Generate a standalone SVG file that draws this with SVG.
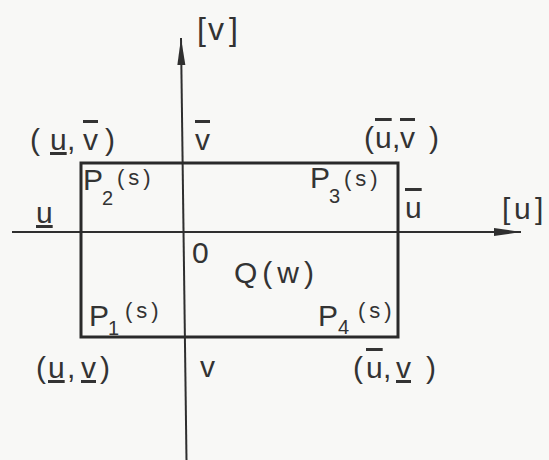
<svg xmlns="http://www.w3.org/2000/svg" width="549" height="460" viewBox="0 0 549 460">
<style>
  .t { font-family: "Liberation Sans", Arial, sans-serif; fill: #333; font-size: 30px; }
  .big { font-size: 32px; }
  .sub { font-size: 20px; }
  .sup { font-size: 22px; letter-spacing: 4px; }
  .ax { stroke: #2f2f2f; stroke-width: 2; fill: none; }
  .box { stroke: #2a2a2a; stroke-width: 3; fill: none; }
  .ol { text-decoration: overline; }
  .ul { text-decoration: underline; }
</style>
<defs>
  <marker id="arr" markerUnits="userSpaceOnUse" markerWidth="30" markerHeight="12" viewBox="-28 -5 30 10" refX="0" refY="0" orient="auto">
    <path d="M0,0 L-27,-4 L-27,4 Z" fill="#2f2f2f"/>
  </marker>
</defs>
<rect x="0" y="0" width="549" height="460" fill="#f8f8f6"/>

<g id="connectors">
  <line class="ax" x1="186.5" y1="460" x2="181" y2="38" marker-end="url(#arr)"/>
  <line class="ax" x1="12" y1="232" x2="521" y2="232" marker-end="url(#arr)"/>
</g>

<g id="region-Q">
  <rect class="box" x="81" y="163" width="317" height="174"/>
  <text class="t" x="192" y="263" font-size="28">0</text>
  <text class="t" x="234" y="283" letter-spacing="5">Q(w)</text>
</g>

<g id="axis-labels">
  <text class="t big"><tspan x="197" y="40">[</tspan><tspan x="208" y="40">v</tspan><tspan x="229" y="40">]</tspan></text>
  <text class="t"><tspan x="502" y="219">[</tspan><tspan x="514" y="219">u</tspan><tspan x="535" y="219">]</tspan></text>
  <text class="t" x="195" y="150"><tspan class="ol">v</tspan></text>
  <text class="t" x="200" y="377">v</text>
  <text class="t" x="36" y="223"><tspan class="ul">u</tspan></text>
  <text class="t" x="405" y="218"><tspan class="ol">u</tspan></text>
</g>

<g id="corner-P2">
  <text class="t"><tspan x="30" y="150">(</tspan><tspan x="50" y="150" class="ul">u</tspan><tspan x="67" y="150">,</tspan><tspan x="83" y="150" class="ol">v</tspan><tspan x="105" y="150">)</tspan></text>
  <text class="t" x="83" y="190">P</text>
  <text class="t sub" x="102" y="205">2</text>
  <text class="t sup" x="117" y="185">(s)</text>
</g>

<g id="corner-P3">
  <text class="t"><tspan x="364" y="148">(</tspan><tspan x="375" y="148" class="ol">u</tspan><tspan x="392" y="148">,</tspan><tspan x="400" y="148" class="ol">v</tspan><tspan x="429" y="148">)</tspan></text>
  <text class="t" x="310" y="188">P</text>
  <text class="t sub" x="329" y="203">3</text>
  <text class="t sup" x="344" y="186">(s)</text>
</g>

<g id="corner-P1">
  <text class="t"><tspan x="36" y="378">(</tspan><tspan x="48" y="378" class="ul">u</tspan><tspan x="67" y="378">,</tspan><tspan x="81" y="378" class="ul">v</tspan><tspan x="100" y="378">)</tspan></text>
  <text class="t" x="89" y="326">P</text>
  <text class="t sub" x="108" y="335">1</text>
  <text class="t sup" x="125" y="318">(s)</text>
</g>

<g id="corner-P4">
  <text class="t"><tspan x="353" y="378">(</tspan><tspan x="366" y="378" class="ol">u</tspan><tspan x="383" y="378">,</tspan><tspan x="396" y="378" class="ul">v</tspan><tspan x="426" y="378">)</tspan></text>
  <text class="t" x="318" y="326">P</text>
  <text class="t sub" x="338" y="334">4</text>
  <text class="t sup" x="358" y="318">(s)</text>
</g>
</svg>
